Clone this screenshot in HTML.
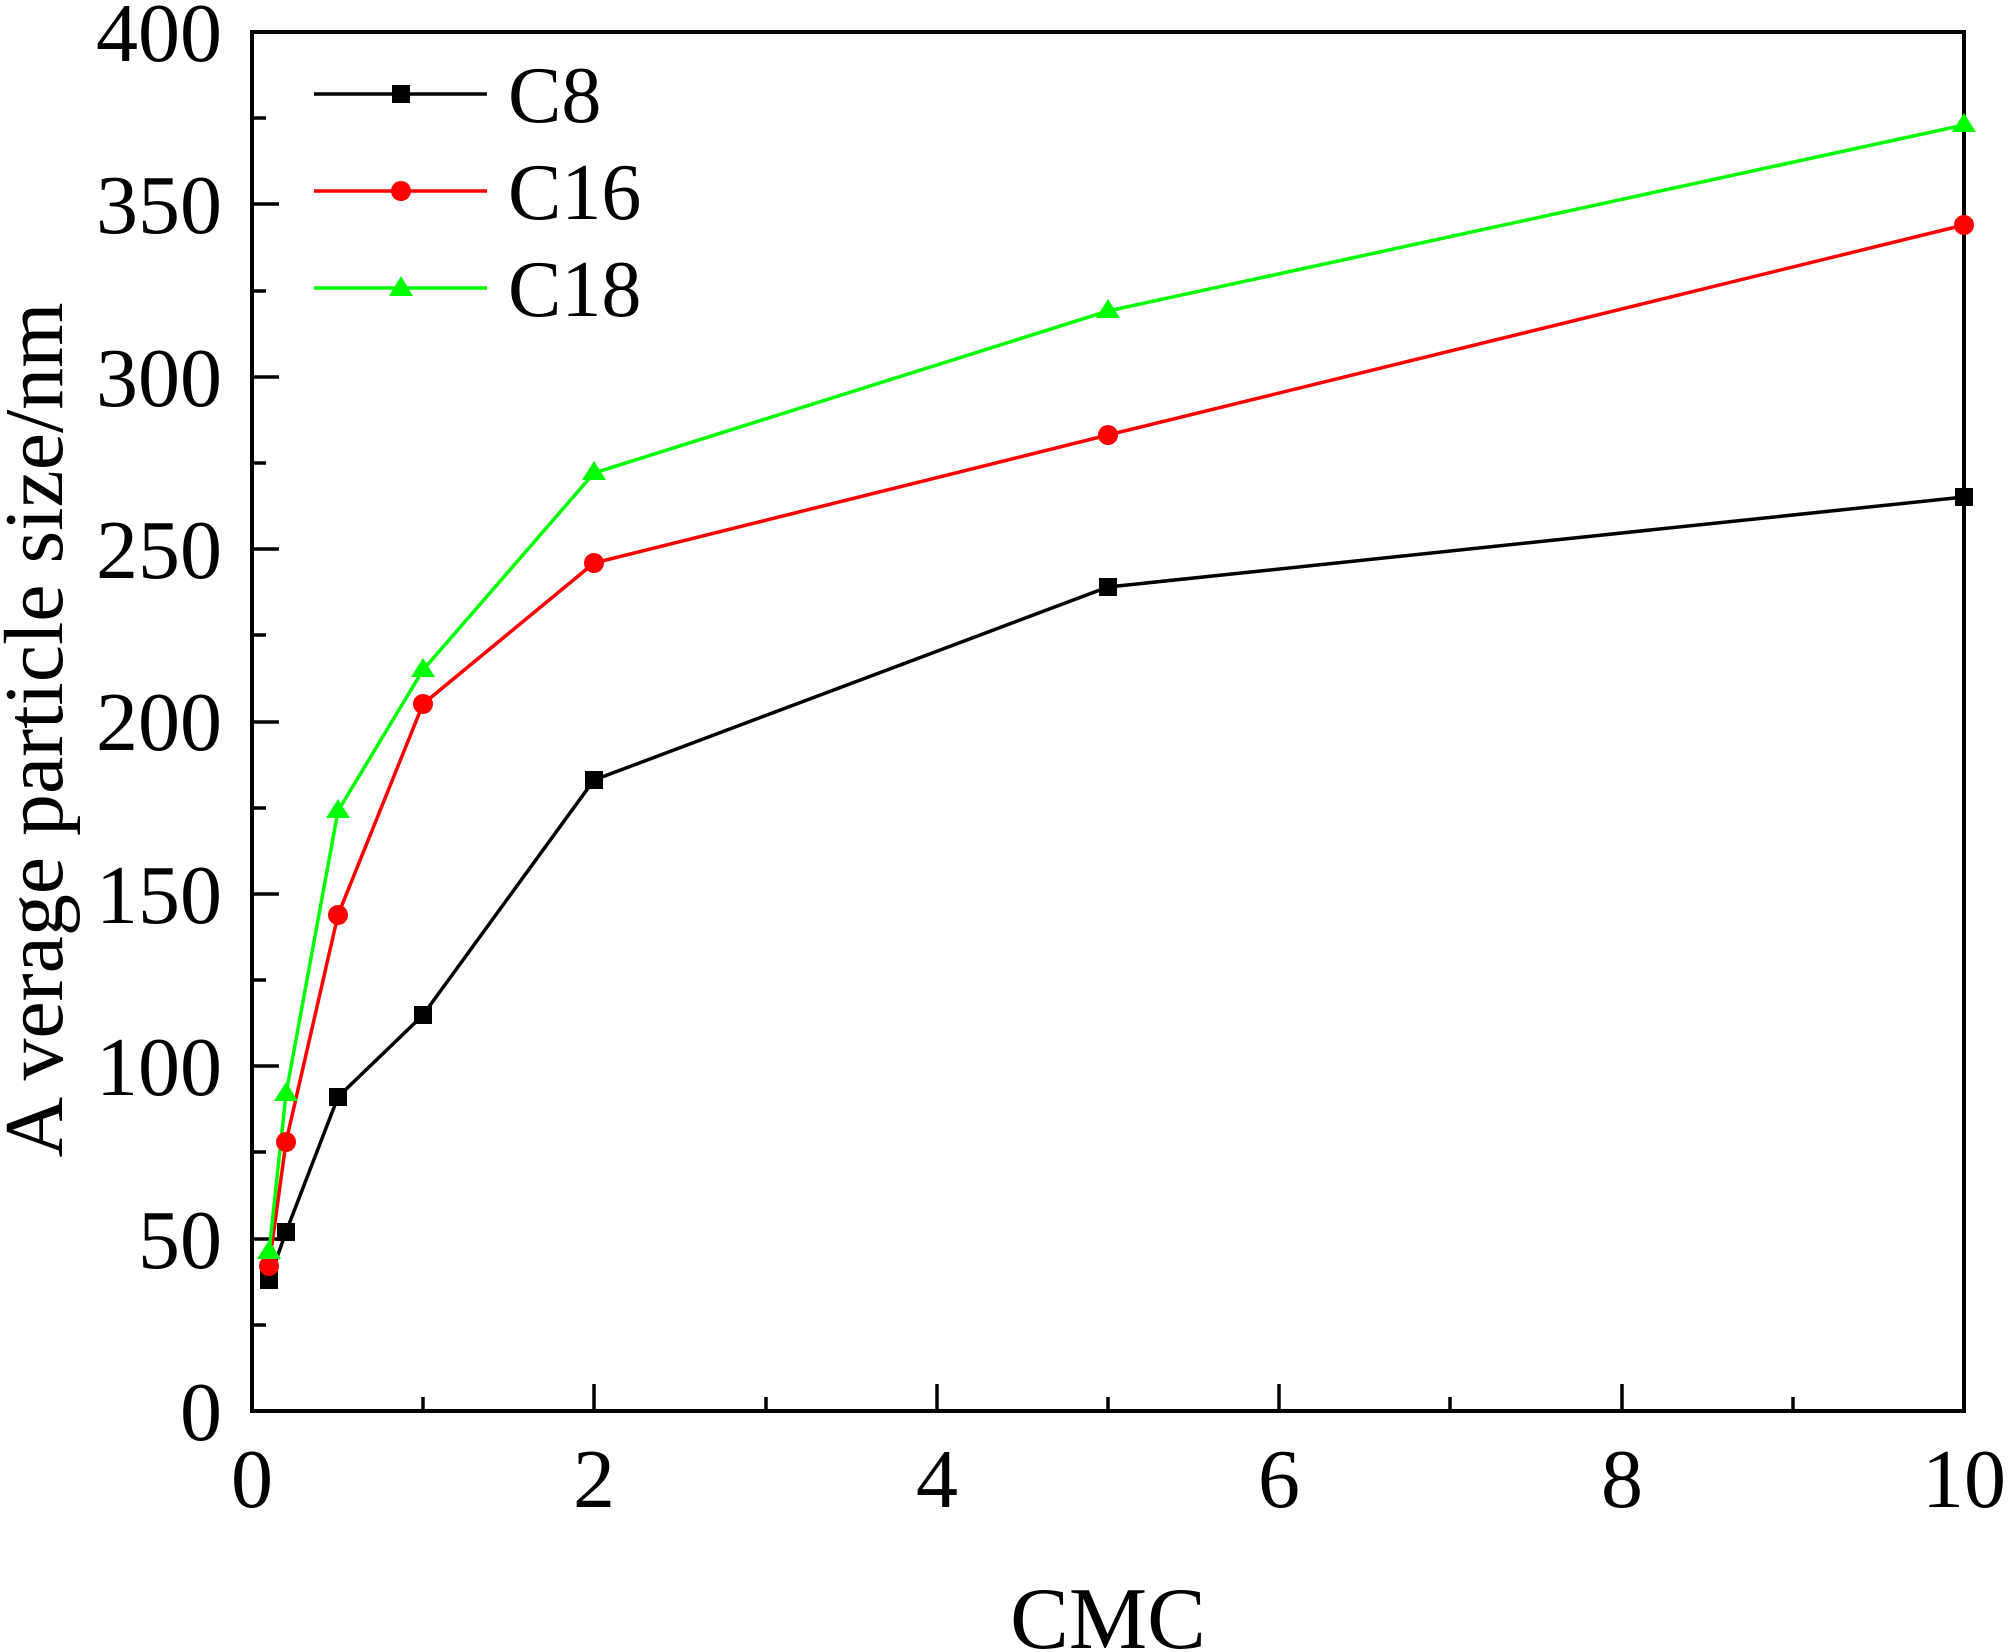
<!DOCTYPE html>
<html><head><meta charset="utf-8"><style>html,body{margin:0;padding:0;background:#fff}svg{display:block}</style></head>
<body>
<svg width="2008" height="1652" viewBox="0 0 2008 1652" xmlns="http://www.w3.org/2000/svg" font-family="'Liberation Serif', serif">
<rect width="2008" height="1652" fill="#fff"/>
<g stroke="#000" stroke-width="3.5">
<line x1="252" y1="1325" x2="266" y2="1325"/><line x1="252" y1="1239" x2="279" y2="1239"/>
<line x1="252" y1="1152" x2="266" y2="1152"/><line x1="252" y1="1066" x2="279" y2="1066"/>
<line x1="252" y1="980" x2="266" y2="980"/><line x1="252" y1="894" x2="279" y2="894"/>
<line x1="252" y1="808" x2="266" y2="808"/><line x1="252" y1="722" x2="279" y2="722"/>
<line x1="252" y1="635" x2="266" y2="635"/><line x1="252" y1="549" x2="279" y2="549"/>
<line x1="252" y1="463" x2="266" y2="463"/><line x1="252" y1="377" x2="279" y2="377"/>
<line x1="252" y1="291" x2="266" y2="291"/><line x1="252" y1="204" x2="279" y2="204"/>
<line x1="252" y1="118" x2="266" y2="118"/>
<line x1="423" y1="1411" x2="423" y2="1397"/><line x1="594" y1="1411" x2="594" y2="1384"/>
<line x1="766" y1="1411" x2="766" y2="1397"/><line x1="937" y1="1411" x2="937" y2="1384"/>
<line x1="1108" y1="1411" x2="1108" y2="1397"/><line x1="1279" y1="1411" x2="1279" y2="1384"/>
<line x1="1450" y1="1411" x2="1450" y2="1397"/><line x1="1622" y1="1411" x2="1622" y2="1384"/>
<line x1="1793" y1="1411" x2="1793" y2="1397"/>
</g>
<rect x="252" y="32" width="1712" height="1379" fill="none" stroke="#000" stroke-width="4"/>
<g font-size="84" text-anchor="end" fill="#000">
<text x="222" y="1440">0</text><text x="222" y="1268">50</text><text x="222" y="1095">100</text>
<text x="222" y="923">150</text><text x="222" y="750">200</text><text x="222" y="578">250</text>
<text x="222" y="406">300</text><text x="222" y="233">350</text><text x="222" y="61">400</text>
</g>
<g font-size="84" text-anchor="middle" fill="#000">
<text x="252" y="1507">0</text><text x="594" y="1507">2</text><text x="937" y="1507">4</text>
<text x="1279" y="1507">6</text><text x="1622" y="1507">8</text><text x="1964" y="1507">10</text>
<text x="1108" y="1648" font-size="88">CMC</text>
</g>
<text transform="translate(62,730) rotate(-90)" font-size="84" text-anchor="middle" textLength="855" lengthAdjust="spacingAndGlyphs">A verage particle size/nm</text>
<g fill="none" stroke-width="3.5">
<polyline stroke="#000" points="269,1280 286,1232 338,1097 423,1015 594,780 1108,587 1964,497"/>
<polyline stroke="#ff0000" points="269,1266 286,1142 338,915 423,704 594,563 1108,435 1964,225"/>
<polyline stroke="#00ff00" points="269,1252 286,1094 338,811 423,670 594,473 1108,311 1964,125"/>
</g>
<g fill="#000">
<rect x="260" y="1271" width="18" height="18"/><rect x="277" y="1223" width="18" height="18"/>
<rect x="329" y="1088" width="18" height="18"/><rect x="414" y="1006" width="18" height="18"/>
<rect x="585" y="771" width="18" height="18"/><rect x="1099" y="578" width="18" height="18"/>
<rect x="1955" y="488" width="18" height="18"/>
</g>
<g fill="#ff0000">
<circle cx="269" cy="1266" r="10"/><circle cx="286" cy="1142" r="10"/><circle cx="338" cy="915" r="10"/>
<circle cx="423" cy="704" r="10"/><circle cx="594" cy="563" r="10"/><circle cx="1108" cy="435" r="10"/>
<circle cx="1964" cy="225" r="10"/>
</g>
<g fill="#00ff00">
<polygon points="269,1240 281,1259 257,1259"/><polygon points="286,1082 298,1101 274,1101"/>
<polygon points="338,799 350,818 326,818"/><polygon points="423,658 435,677 411,677"/>
<polygon points="594,461 606,480 582,480"/><polygon points="1108,299 1120,318 1096,318"/>
<polygon points="1964,113 1976,132 1952,132"/>
</g>
<g stroke-width="3.5">
<line x1="314" y1="94" x2="487" y2="94" stroke="#000"/>
<line x1="314" y1="191" x2="487" y2="191" stroke="#ff0000"/>
<line x1="314" y1="288" x2="487" y2="288" stroke="#00ff00"/>
</g>
<rect x="392" y="85" width="18" height="18" fill="#000"/>
<circle cx="401" cy="191" r="10" fill="#ff0000"/>
<polygon points="401,276 413,296 389,296" fill="#00ff00"/>
<g font-size="80" fill="#000">
<text x="508" y="122">C8</text><text x="508" y="219">C16</text><text x="508" y="316">C18</text>
</g>
</svg>
</body></html>
